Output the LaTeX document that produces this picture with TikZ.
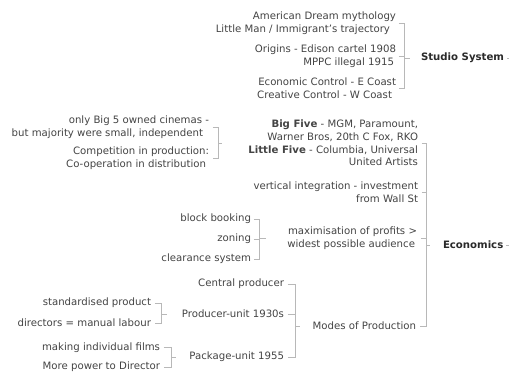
\documentclass[tikz,border=0pt]{standalone}
\usepackage{fontspec}
\setmainfont{DejaVu Sans}
\definecolor{txt}{HTML}{444444}
\definecolor{btxt}{HTML}{2A2A2A}
\definecolor{ln}{HTML}{B8B8B8}
\begin{document}
\begin{tikzpicture}[x=1bp,y=-1bp,
  every node/.style={inner sep=0pt, outer sep=0pt, font=\fontsize{10.2}{12.8}\selectfont, text=txt, align=right},
  lbl/.style={anchor=east},
  hub/.style={anchor=west, font=\fontsize{10.2}{12.8}\selectfont\bfseries, text=btxt},
  conn/.style={draw=ln, line width=0.9bp}]
\useasboundingbox[fill=white] (0,0) rectangle (509,371);
\coordinate (sE) at (509,0);

% Studio System
\node[hub] (S) at (421,58) {Studio System};
\node[lbl] (a1) at (396,23) {American Dream mythology\\Little Man / Immigrant's trajectory\kern6bp};
\node[lbl] (a2) at (396,56) {Origins - Edison cartel 1908\\MPPC illegal 1915\kern2bp};
\node[lbl] (a3) at (396,88) {Economic Control - E Coast\\Creative Control - W Coast\kern4bp};
\coordinate (kS) at (404,0);
\draw[conn] ([xshift=3]a1.east) -- (a1.east -| kS) -- (a3.east -| kS) -- ([xshift=3]a3.east);
\draw[conn] ([xshift=3]a2.east) -- (a2.east -| kS);
\draw[conn] (S.west -| kS) -- ([xshift=-11]S.west);
\draw[conn] ([xshift=3]S.east) -- (S.east -| sE);

% Economics
\node[hub] (E) at (443,245) {Economics};
\node[lbl] (b1) at (418,143) {\textbf{Big Five} - MGM, Paramount,\\Warner Bros, 20th C Fox, RKO\\\textbf{Little Five} - Columbia, Universal\\United Artists};
\node[lbl] (b2) at (418,192) {vertical integration - investment\\from Wall St};
\node[lbl] (b3) at (417,238.5) {maximisation of profits >\\widest possible audience\kern2bp};
\node[lbl] (b4) at (416,326) {Modes of Production};
\coordinate (kE) at (426,0);
\draw[conn] ([xshift=4]b1.east) -- (b1.east -| kE) -- (b4.east -| kE) -- ([xshift=4]b4.east);
\draw[conn] ([xshift=4]b2.east) -- (b2.east -| kE);
\draw[conn] ([xshift=4]b3.east) -- (b3.east -| kE);
\draw[conn] (E.west -| kE) -- ([xshift=-13]E.west);
\draw[conn] ([xshift=3]E.east) -- (E.east -| sE);

% Big Five children
\node[lbl] (c1) at (209,127) {only Big 5 owned cinemas -\\but majority were small, independent\kern6bp};
\node[lbl] (c2) at (209,158.5) {Competition in production:\\Co-operation in distribution\kern3bp};
\coordinate (kB) at (218,0);
\draw[conn] ([xshift=4]c1.east) -- (c1.east -| kB) -- (c2.east -| kB) -- ([xshift=4]c2.east);
\draw[conn] (kB |- b1.west) -- ([xshift=4]kB |- b1.west);

% maximisation children
\node[lbl] (d1) at (251,219) {block booking};
\node[lbl] (d2) at (251,239) {zoning};
\node[lbl] (d3) at (251,259) {clearance system};
\coordinate (kD) at (259,0);
\draw[conn] ([xshift=3]d1.east) -- (d1.east -| kD) -- (d3.east -| kD) -- ([xshift=3]d3.east);
\draw[conn] ([xshift=3]d2.east) -- (d2.east -| kD);
\draw[conn] (kD |- b3.west) -- ([xshift=7]kD |- b3.west);

% Modes of Production children
\node[lbl] (e1) at (284,284) {Central producer};
\node[lbl] (e2) at (284,314) {Producer-unit 1930s};
\node[lbl] (e3) at (284,357) {Package-unit 1955};
\coordinate (kM) at (295,0);
\draw[conn] ([xshift=4]e1.east) -- (e1.east -| kM) -- (e3.east -| kM) -- ([xshift=4]e3.east);
\draw[conn] ([xshift=4]e2.east) -- (e2.east -| kM);
\draw[conn] (kM |- b4.west) -- ([xshift=5]kM |- b4.west);

% Producer-unit children
\node[lbl] (f1) at (151,303) {standardised product};
\node[lbl] (f2) at (151,323) {directors = manual labour};
\coordinate (kF) at (161,0);
\draw[conn] ([xshift=4]f1.east) -- (f1.east -| kF) -- (f2.east -| kF) -- ([xshift=4]f2.east);
\draw[conn] (kF |- e2.west) -- ([xshift=6]kF |- e2.west);

% Package-unit children
\node[lbl] (g1) at (160,347.5) {making individual films};
\node[lbl] (g2) at (160,367) {More power to Director};
\coordinate (kG) at (171,0);
\draw[conn] ([xshift=4]g1.east) -- (g1.east -| kG) -- (g2.east -| kG) -- ([xshift=4]g2.east);
\draw[conn] (kG |- e3.west) -- ([xshift=5]kG |- e3.west);
\end{tikzpicture}
\end{document}
